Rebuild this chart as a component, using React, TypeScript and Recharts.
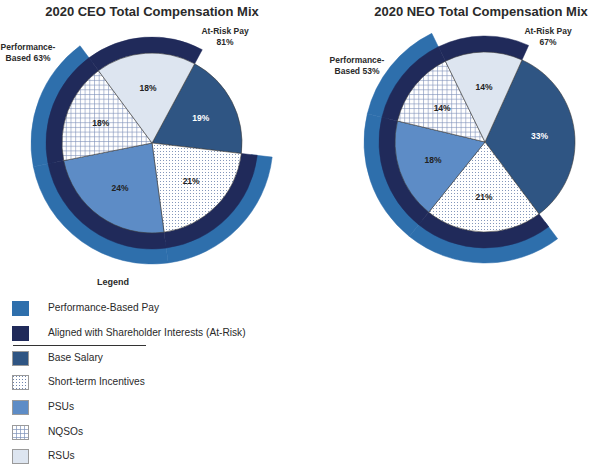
import React from "react";
import { PieChart, Pie, Cell } from "recharts";

const categories = ["Base Salary", "Short-term Incentives", "PSUs", "NQSOs", "RSUs"];
const ceoValues = [19, 21, 24, 18, 18];
const neoValues = [33, 21, 18, 14, 14];
// which components belong to each outer ring
const performanceBased = [false, true, true, true, false];
const atRisk = [false, true, true, true, true];
const ceoPerformanceTotal = 63;
const ceoAtRiskTotal = 81;
const neoPerformanceTotal = 53;
const neoAtRiskTotal = 67;
const legendTop = ["Performance-Based Pay", "Aligned with Shareholder Interests (At-Risk)"];

const PERF_BLUE = "#2e6fac";
const RISK_NAVY = "#202a5a";
const sliceFills = ["#2f5583", "url(#dots)", "#5d8cc6", "url(#grid)", "#dde5f0"];
const legendFills = ["#2f5583", "url(#lgDots)", "#5d8cc6", "url(#lgGrid)", "#dde5f0"];

const RADIAN = Math.PI / 180;
const FONT = "'Liberation Sans', Arial, sans-serif";

function toRows(values: number[]) {
  return values.map((v, i) => ({ name: categories[i], value: v }));
}

function renderLabel(props: any) {
  const { cx, cy, midAngle, outerRadius, value, index } = props;
  const r = outerRadius * 0.61;
  const x = cx + r * Math.cos(-midAngle * RADIAN);
  const y = cy + r * Math.sin(-midAngle * RADIAN);
  return (
    <text
      x={x}
      y={y}
      textAnchor="middle"
      dominantBaseline="central"
      fontSize={8.5}
      fontWeight="bold"
      fontFamily={FONT}
      fill={index === 0 ? "#ffffff" : "#222222"}
    >
      {value}%
    </text>
  );
}

function Donut({ values, cx, cy, start }: { values: number[]; cx: number; cy: number; start: number }) {
  const rows = toRows(values);
  const end = start - 360;
  return [
    <Pie
      key="perf"
      data={rows}
      dataKey="value"
      cx={cx}
      cy={cy}
      innerRadius={100}
      outerRadius={121}
      startAngle={start}
      endAngle={end}
      isAnimationActive={false}
    >
      {rows.map((_, i) => (
        <Cell
          key={i}
          fill={performanceBased[i] ? PERF_BLUE : "none"}
          stroke={performanceBased[i] ? PERF_BLUE : "none"}
          strokeWidth={0.5}
        />
      ))}
    </Pie>,
    <Pie
      key="risk"
      data={rows}
      dataKey="value"
      cx={cx}
      cy={cy}
      innerRadius={86}
      outerRadius={106}
      startAngle={start}
      endAngle={end}
      isAnimationActive={false}
    >
      {rows.map((_, i) => (
        <Cell
          key={i}
          fill={atRisk[i] ? RISK_NAVY : "none"}
          stroke={atRisk[i] ? RISK_NAVY : "none"}
          strokeWidth={0.5}
        />
      ))}
    </Pie>,
    <Pie
      key="mix"
      data={rows}
      dataKey="value"
      cx={cx}
      cy={cy}
      outerRadius={90}
      startAngle={start}
      endAngle={end}
      label={renderLabel}
      labelLine={false}
      isAnimationActive={false}
    >
      {rows.map((_, i) => (
        <Cell key={i} fill={sliceFills[i]} stroke="#3a3a3a" strokeWidth={0.6} />
      ))}
    </Pie>,
  ];
}

function Txt({ x, y, size, bold, children, align = "center" }: any) {
  return (
    <div
      style={{
        position: "absolute",
        left: x,
        top: y,
        transform: align === "center" ? "translate(-50%, -50%)" : "translate(0, -50%)",
        fontSize: size,
        fontWeight: bold ? "bold" : "normal",
        color: "#2a2a2a",
        whiteSpace: "nowrap",
        lineHeight: 1.25,
        textAlign: "center",
      }}
    >
      {children}
    </div>
  );
}

function Swatch({ fill, bordered }: { fill: string; bordered: boolean }) {
  return (
    <svg width={17} height={15} style={{ position: "absolute", left: 12, top: -7 }}>
      <defs>
        <pattern id="lgDots" width={3} height={3} patternUnits="userSpaceOnUse">
          <rect width={3} height={3} fill="#fff" />
          <rect x={1} y={1} width={1} height={1} fill="#6f84ad" />
        </pattern>
        <pattern id="lgGrid" width={4} height={4} patternUnits="userSpaceOnUse">
          <rect width={4} height={4} fill="#fff" />
          <path d="M0 0.5H4M0.5 0V4" stroke="#7d90b8" strokeWidth={0.7} />
        </pattern>
      </defs>
      <rect x={0.5} y={0.5} width={16} height={14} fill={fill} stroke={bordered ? "#9a9a9a" : fill} strokeWidth={1} />
    </svg>
  );
}

export default function App() {
  const legendRows = [
    ...legendTop.map((t, i) => ({ label: t, fill: i === 0 ? PERF_BLUE : RISK_NAVY, bordered: false })),
    ...categories.map((c, i) => ({ label: c, fill: legendFills[i], bordered: true })),
  ];
  const legendY = [308, 333, 358, 382, 407, 432, 456];

  return (
    <div style={{ position: "absolute", left: 0, top: 0, width: 589, height: 464, fontFamily: FONT, background: "#fff" }}>
      <PieChart width={589} height={464} margin={{ top: 0, right: 0, bottom: 0, left: 0 }}>
        <defs>
          <pattern id="dots" width={3} height={3} patternUnits="userSpaceOnUse">
            <rect width={3} height={3} fill="#fff" />
            <rect x={1} y={1} width={1} height={1} fill="#8497bb" />
          </pattern>
          <pattern id="grid" width={4.7} height={4.7} patternUnits="userSpaceOnUse">
            <rect width={4.7} height={4.7} fill="#fff" />
            <path d="M0 0.5H4.7M0.5 0V4.7" stroke="#7d90b8" strokeWidth={0.6} />
          </pattern>
        </defs>
        {Donut({ values: ceoValues, cx: 152, cy: 143, start: 61.7 })}
        {Donut({ values: neoValues, cx: 485, cy: 142, start: 65.7 })}
      </PieChart>

      <Txt x={152} y={12} size={13} bold>2020 CEO Total Compensation Mix</Txt>
      <Txt x={481} y={12} size={13} bold>2020 NEO Total Compensation Mix</Txt>

      <Txt x={225} y={37} size={8.5} bold>At-Risk Pay<br />{ceoAtRiskTotal}%</Txt>
      <Txt x={28} y={53} size={8.5} bold>Performance-<br />Based {ceoPerformanceTotal}%</Txt>
      <Txt x={548} y={37} size={8.5} bold>At-Risk Pay<br />{neoAtRiskTotal}%</Txt>
      <Txt x={357} y={66} size={8.5} bold>Performance-<br />Based {neoPerformanceTotal}%</Txt>

      <Txt x={113} y={283} size={9} bold>Legend</Txt>
      {legendRows.map((r, i) => (
        <div key={r.label} style={{ position: "absolute", left: 0, top: legendY[i] }}>
          <Swatch fill={r.fill} bordered={r.bordered} />
          <Txt x={48} y={0} size={10.2} align="left">{r.label}</Txt>
        </div>
      ))}
      <div style={{ position: "absolute", left: 13, top: 345, width: 133, height: 1, background: "#333" }} />
    </div>
  );
}
